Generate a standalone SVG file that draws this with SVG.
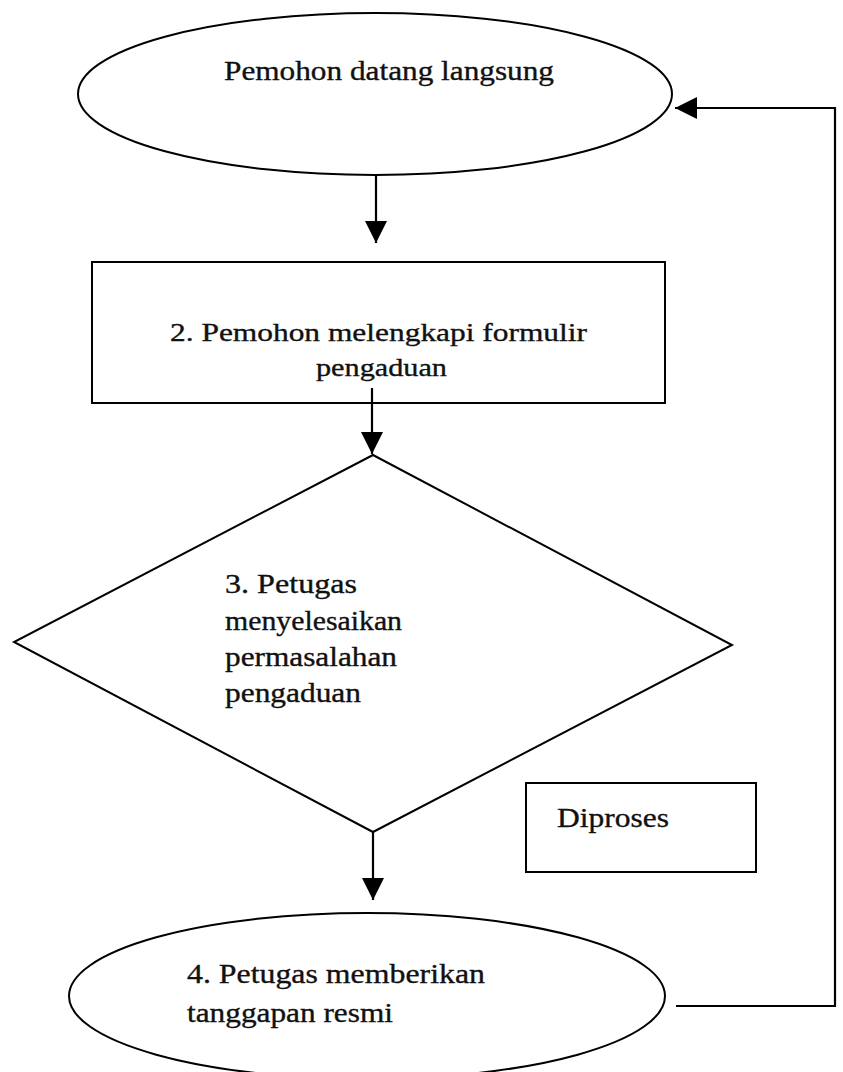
<svg xmlns="http://www.w3.org/2000/svg" width="843" height="1072" viewBox="0 0 843 1072">
<style>
.shape{fill:#fff;stroke:#000;stroke-width:2}
.conn{fill:none;stroke:#000;stroke-width:2.2}
.t{font-family:"Liberation Serif","Times New Roman",serif;fill:#111;stroke:#111;stroke-width:0.35}
</style>
<defs>
<marker id="ah" markerUnits="userSpaceOnUse" markerWidth="24" markerHeight="24" refX="22" refY="11" orient="auto">
<path d="M0,0 L22,11 L0,22 z" fill="#000"/>
</marker>
</defs>
<rect width="843" height="1072" fill="#fff"/>
<g id="start">
<ellipse class="shape" cx="375" cy="94" rx="297" ry="81"/>
<text class="t" x="224" y="80" font-size="27" textLength="330" lengthAdjust="spacingAndGlyphs">Pemohon datang langsung</text>
</g>
<g id="step2">
<rect class="shape" x="92" y="262" width="573" height="141"/>
<text class="t" x="170" y="341" font-size="26" textLength="417" lengthAdjust="spacingAndGlyphs">2.  Pemohon melengkapi formulir</text>
<text class="t" x="316" y="376" font-size="26" textLength="131" lengthAdjust="spacingAndGlyphs">pengaduan</text>
</g>
<g id="step3">
<polygon class="shape" points="373,455 14,642 373,832 732,645"/>
<text class="t" x="225" y="593" font-size="27" textLength="132" lengthAdjust="spacingAndGlyphs">3. Petugas</text>
<text class="t" x="225" y="630" font-size="27" textLength="177" lengthAdjust="spacingAndGlyphs">menyelesaikan</text>
<text class="t" x="225" y="666" font-size="27" textLength="172" lengthAdjust="spacingAndGlyphs">permasalahan</text>
<text class="t" x="225" y="702" font-size="27" textLength="136" lengthAdjust="spacingAndGlyphs">pengaduan</text>
</g>
<g id="diproses">
<rect class="shape" x="526" y="783" width="230" height="89"/>
<text class="t" x="557" y="827" font-size="28" textLength="112" lengthAdjust="spacingAndGlyphs">Diproses</text>
</g>
<g id="step4">
<ellipse class="shape" cx="367" cy="996" rx="298" ry="83"/>
<text class="t" x="187" y="983" font-size="28" textLength="298" lengthAdjust="spacingAndGlyphs">4. Petugas memberikan</text>
<text class="t" x="187" y="1022" font-size="28" textLength="206" lengthAdjust="spacingAndGlyphs">tanggapan resmi</text>
</g>
<g id="connectors">
<line class="conn" x1="376" y1="175" x2="376" y2="243" marker-end="url(#ah)"/>
<line class="conn" x1="372" y1="388" x2="372" y2="454" marker-end="url(#ah)"/>
<line class="conn" x1="373" y1="832" x2="373" y2="900" marker-end="url(#ah)"/>
<polyline class="conn" points="676,1006 835,1006 835,108 675,108" marker-end="url(#ah)"/>
</g>
</svg>
